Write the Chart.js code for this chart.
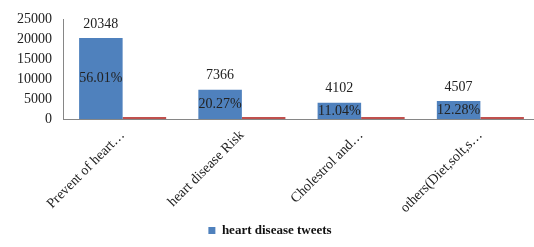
<!DOCTYPE html>
<html>
<head>
<meta charset="utf-8">
<script src="https://cdn.jsdelivr.net/npm/chart.js@4.4.0/dist/chart.umd.min.js"></script>
<style>
  html, body { margin: 0; padding: 0; background: #fff; overflow: hidden; }
  #wrap { width: 552px; height: 247px; }
</style>
</head>
<body>
<div id="wrap"><canvas id="chart"></canvas></div>
<script>
const categories = ['Prevent of heart…', 'heart disease Risk', 'Cholestrol and…', 'others(Diet,solt,s…'];
const tweetCounts = [20348, 7366, 4102, 4507];
const percentShares = [56.01, 20.27, 11.04, 12.28];
const yTicks = [0, 5000, 10000, 15000, 20000, 25000];

const SERIF = '"Liberation Serif", "Times New Roman", serif';
const BLUE = '#4F81BD';
const RED = '#C0504D';

// value above each blue bar, percentage in the middle of it
const barLabels = {
  id: 'barLabels',
  afterDatasetsDraw(chart) {
    const ctx = chart.ctx;
    const meta = chart.getDatasetMeta(0);
    ctx.save();
    ctx.fillStyle = '#222';
    ctx.textAlign = 'center';
    ctx.textBaseline = 'middle';
    ctx.font = `14px ${SERIF}`;
    meta.data.forEach((bar, i) => {
      ctx.fillText(String(tweetCounts[i]), bar.x, bar.y - 14);
      const mid = (bar.y + bar.base) / 2;
      ctx.fillText(`${percentShares[i].toFixed(2)}%`, bar.x, mid);
    });
    ctx.restore();
  }
};

new Chart(document.getElementById('chart'), {
  type: 'bar',
  data: {
    labels: categories,
    datasets: [
      {
        label: 'heart disease tweets',
        data: tweetCounts,
        backgroundColor: BLUE,
        borderWidth: 0,
        barPercentage: 1,
        categoryPercentage: 0.73
      },
      {
        label: 'share',
        data: percentShares,
        backgroundColor: RED,
        borderWidth: 0,
        minBarLength: 2,
        barPercentage: 1,
        categoryPercentage: 0.73
      }
    ]
  },
  options: {
    responsive: true,
    maintainAspectRatio: false,
    animation: false,
    layout: { padding: { top: 3, right: 12, left: 0, bottom: 0 } },
    scales: {
      x: {
        grid: { display: false },
        border: { display: true, color: '#868686' },
        ticks: {
          color: '#222',
          font: { family: SERIF, size: 14 },
          minRotation: 45,
          maxRotation: 45,
          autoSkip: false,
          padding: 0
        },
        afterFit(scale) { scale.height = 102; }
      },
      y: {
        min: 0,
        max: 25000,
        grid: { display: false, drawTicks: false },
        border: { display: true, color: '#868686' },
        afterBuildTicks(scale) { scale.ticks = yTicks.map((v) => ({ value: v })); },
        ticks: {
          color: '#222',
          font: { family: SERIF, size: 14 },
          padding: 11,
          autoSkip: false,
          callback: (v) => String(v)
        },
        afterFit(scale) { scale.width = 63; }
      }
    },
    plugins: {
      legend: {
        position: 'bottom',
        labels: {
          filter: (item) => item.datasetIndex === 0,
          boxWidth: 7,
          boxHeight: 7,
          color: '#111',
          font: { family: SERIF, size: 13, weight: 'bold' },
          padding: 3
        }
      },
      tooltip: { enabled: false }
    }
  },
  plugins: [barLabels]
});
</script>
</body>
</html>
